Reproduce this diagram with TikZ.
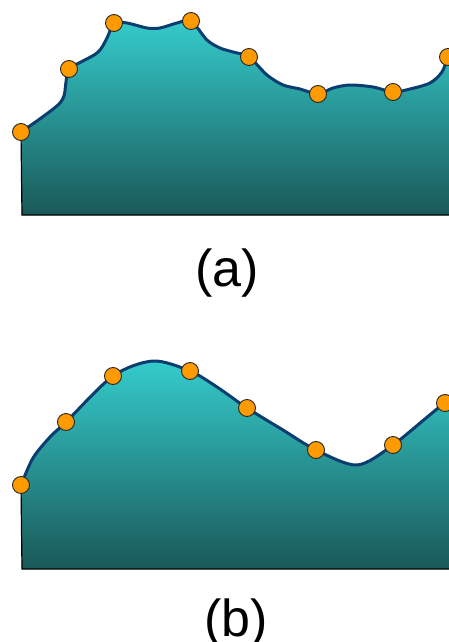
\documentclass[tikz,border=0pt]{standalone}
\usepackage{fontspec}
\setmainfont{Liberation Sans}
\definecolor{topc}{HTML}{35CCCC}
\definecolor{botc}{HTML}{1A5858}
\definecolor{linec}{HTML}{0B3D70}
\definecolor{dotc}{HTML}{FF9A00}
\usetikzlibrary{positioning}
\tikzset{
  area/.style={top color=topc,bottom color=botc},
  rim/.style={draw=black,line width=1.2pt},
  curve/.style={draw=linec,line width=3pt,line join=round,line cap=round},
  knot/.style={circle,draw=black!85,line width=0.9pt,fill=dotc,minimum size=17pt,inner sep=0pt},
  lbl/.style={font=\fontsize{52}{54}\selectfont,anchor=base},
}
\newcommand{\knots}[1]{\foreach \n in {1,...,8} {\node[knot] (k#1\n) at (#1\n) {};}}

\begin{document}
\begin{tikzpicture}[x=1pt,y=-1pt]
  \useasboundingbox (0,0) rectangle (449,642);
  \clip (0,0) rectangle (449,642);
  % (a) piecewise wavy curve
  \foreach \n/\x/\y in {1/21/132,2/69/69,3/114/23,4/191/21,5/249/57,6/318/94,7/393/92,8/448/57}
    \coordinate (a\n) at (\x,\y);
  \coordinate (ba) at (22,215);
  \coordinate (ea) at (470,215);
  \shade[area] (ba) -- plot[smooth,tension=0.5] coordinates {(a1) (60,103) (66,82) (a2) (97,53) (107,38) (a3) (127,23) (147,28) (160,28) (177,23) (a4) (207,40) (220,48) (233,52) (a5) (267,75) (283,85) (300,89) (a6) (333,88) (350,85) (373,87) (a7) (410,89) (430,83) (442,72) (a8) (458,40)} -- (ea) -- cycle;
  \draw[curve] plot[smooth,tension=0.5] coordinates {(a1) (60,103) (66,82) (a2) (97,53) (107,38) (a3) (127,23) (147,28) (160,28) (177,23) (a4) (207,40) (220,48) (233,52) (a5) (267,75) (283,85) (300,89) (a6) (333,88) (350,85) (373,87) (a7) (410,89) (430,83) (442,72) (a8) (458,40)};
  \draw[rim] (a1) -- (ba) -- (ea);
  \knots{a}
  \node[lbl] (la) at (227,286) {(a)};
  % (b) smooth curve
  \foreach \n/\x/\y in {1/21/485,2/66/422,3/113/376,4/190/371,5/247/408,6/316/450,7/393/445,8/445/403}
    \coordinate (b\n) at (\x,\y);
  \coordinate (bb) at (22,569);
  \coordinate (eb) at (470,569);
  \shade[area] (bb) -- plot[smooth] coordinates {(b1) (33,458) (50,437) (b2) (b3) (153,361) (b4) (217,387) (b5) (283,430) (b6) (357,465) (b7) (b8) (465,398)} -- (eb) -- cycle;
  \draw[curve] plot[smooth] coordinates {(b1) (33,458) (50,437) (b2) (b3) (153,361) (b4) (217,387) (b5) (283,430) (b6) (357,465) (b7) (b8) (465,398)};
  \draw[rim] (b1) -- (bb) -- (eb);
  \knots{b}
  \node[lbl] (lb) at (236,636) {(b)};
\end{tikzpicture}
\end{document}
